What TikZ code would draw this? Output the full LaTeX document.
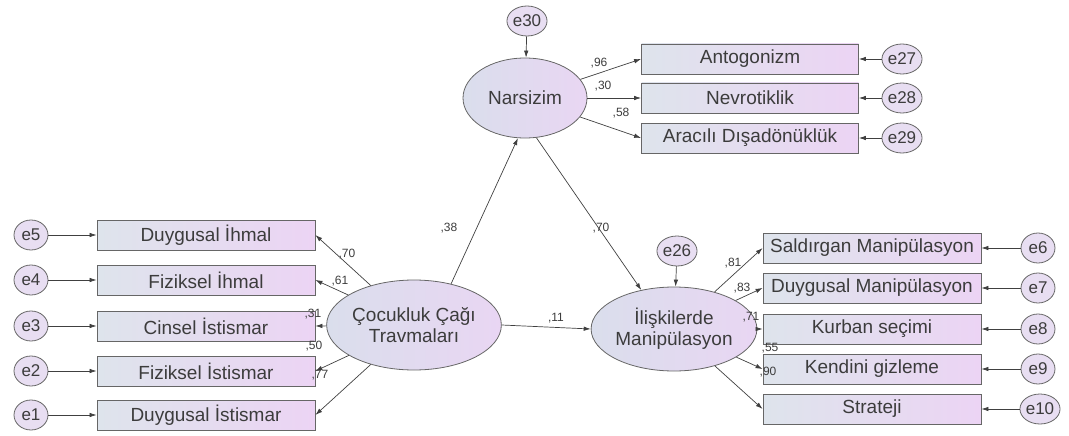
\documentclass[tikz,border=0pt]{standalone}
\usepackage{fontspec}
\setmainfont{Liberation Sans}
\usetikzlibrary{arrows.meta,shapes.geometric}
\definecolor{boxL}{RGB}{222,228,236}
\definecolor{boxR}{RGB}{236,212,244}
\definecolor{latL}{RGB}{218,222,236}
\definecolor{latR}{RGB}{233,214,243}
\definecolor{errF}{RGB}{232,222,242}
\definecolor{ink}{RGB}{60,60,60}
\begin{document}
\begin{tikzpicture}[x=1pt,y=-1pt,
 obs/.style={draw=black!60, line width=0.8pt, left color=boxL, right color=boxR,
   minimum width=218pt, minimum height=30pt, inner sep=0pt,
   font=\fontsize{19}{21}\selectfont, text=ink},
 lat/.style={ellipse, draw=black!60, line width=0.8pt, left color=latL, right color=latR,
   inner sep=0pt, align=center, font=\fontsize{19}{21}\selectfont, text=ink},
 err/.style={ellipse, draw=black!60, line width=0.8pt, fill=errF, minimum width=34pt,
   minimum height=30pt, inner sep=0pt, font=\fontsize{17}{18}\selectfont, text=ink},
 arr/.style={-{Latex[length=7pt,width=4.5pt]}, line width=0.7pt, draw=black!75},
 lbl/.style={font=\fontsize{12}{13}\selectfont, inner sep=0pt, text=ink}]
\useasboundingbox (0,0) rectangle (1069,436);

% latent variables
\node[lat, minimum width=168pt, minimum height=90pt] (ct) at (414,325) {Çocukluk Çağı\\Travmaları};
\node[lat, minimum width=124pt, minimum height=80pt] (n) at (525,98) {Narsizim};
\node[lat, minimum width=155pt, minimum height=84pt] (im) at (674,329) {İlişkilerde\\Manipülasyon};

% left indicators
\node[obs] (b5) at (206,235) {Duygusal İhmal};
\node[obs] (b4) at (206,280) {Fiziksel İhmal};
\node[obs] (b3) at (206,326) {Cinsel İstismar};
\node[obs] (b2) at (206,371) {Fiziksel İstismar};
\node[obs] (b1) at (206,415) {Duygusal İstismar};
\node[err] (e5) at (31,235) {e5};
\node[err] (e4) at (31,280) {e4};
\node[err] (e3) at (31,326) {e3};
\node[err] (e2) at (31,371) {e2};
\node[err] (e1) at (31,415) {e1};

% top indicators
\node[obs, minimum width=217pt] (a1) at (750,59) {Antogonizm};
\node[obs, minimum width=217pt] (a2) at (750,98) {Nevrotiklik};
\node[obs, minimum width=217pt] (a3) at (750,138) {Aracılı Dışadönüklük};
\node[err, minimum width=38pt] (e27) at (902,59) {e27};
\node[err, minimum width=38pt] (e28) at (902,98) {e28};
\node[err, minimum width=38pt] (e29) at (902,138) {e29};
\node[err] (e30) at (527,21) {e30};

% right indicators
\node[obs] (m1) at (872,248) {Saldırgan Manipülasyon};
\node[obs] (m2) at (872,288) {Duygusal Manipülasyon};
\node[obs] (m3) at (872,329) {Kurban seçimi};
\node[obs] (m4) at (872,369) {Kendini gizleme};
\node[obs] (m5) at (872,409) {Strateji};
\node[err] (e6) at (1038,248) {e6};
\node[err] (e7) at (1038,288) {e7};
\node[err] (e8) at (1038,329) {e8};
\node[err] (e9) at (1038,369) {e9};
\node[err] (e10) at (1040,409) {e10};
\node[err] (e26) at (677,251) {e26};

% error arrows
\foreach \i in {1,...,5} {\draw[arr] (e\i) -- (b\i);}
\draw[arr] (e27) -- (a1);
\draw[arr] (e28) -- (a2);
\draw[arr] (e29) -- (a3);
\draw[arr] (e6) -- (m1);
\draw[arr] (e7) -- (m2);
\draw[arr] (e8) -- (m3);
\draw[arr] (e9) -- (m4);
\draw[arr] (e10) -- (m5);
\draw[arr] (e30) -- (n);
\draw[arr] (e26) -- (im);

% loadings
\foreach \i in {1,...,5} {\draw[arr] (ct) -- (b\i.east);}
\draw[arr] (n) -- (a1.west);
\draw[arr] (n) -- (a2.west);
\draw[arr] (n) -- (a3.west);
\foreach \i in {1,...,5} {\draw[arr] (im) -- (m\i.west);}

% structural paths
\draw[arr] (ct.48) -- (n.260);
\draw[arr] (n.286) -- (im.130);
\draw[arr] (ct.east) -- (im.west);

% labels
\node[lbl] (l38) at (449,228) {,38};
\node[lbl] (l70b) at (601,228) {,70};
\node[lbl] (l11) at (556,318) {,11};
\node[lbl] (l70) at (347,254) {,70};
\node[lbl] (l61) at (340,281) {,61};
\node[lbl] (l31) at (313,314) {,31};
\node[lbl] (l50) at (314,346) {,50};
\node[lbl] (l77) at (320,375) {,77};
\node[lbl] (l96) at (599,63) {,96};
\node[lbl] (l30) at (603,86) {,30};
\node[lbl] (l58) at (621,113) {,58};
\node[lbl] (l81) at (733,263) {,81};
\node[lbl] (l83) at (742,288) {,83};
\node[lbl] (l71) at (751,317) {,71};
\node[lbl] (l55) at (770,348) {,55};
\node[lbl] (l90) at (768,372) {,90};
\end{tikzpicture}
\end{document}
